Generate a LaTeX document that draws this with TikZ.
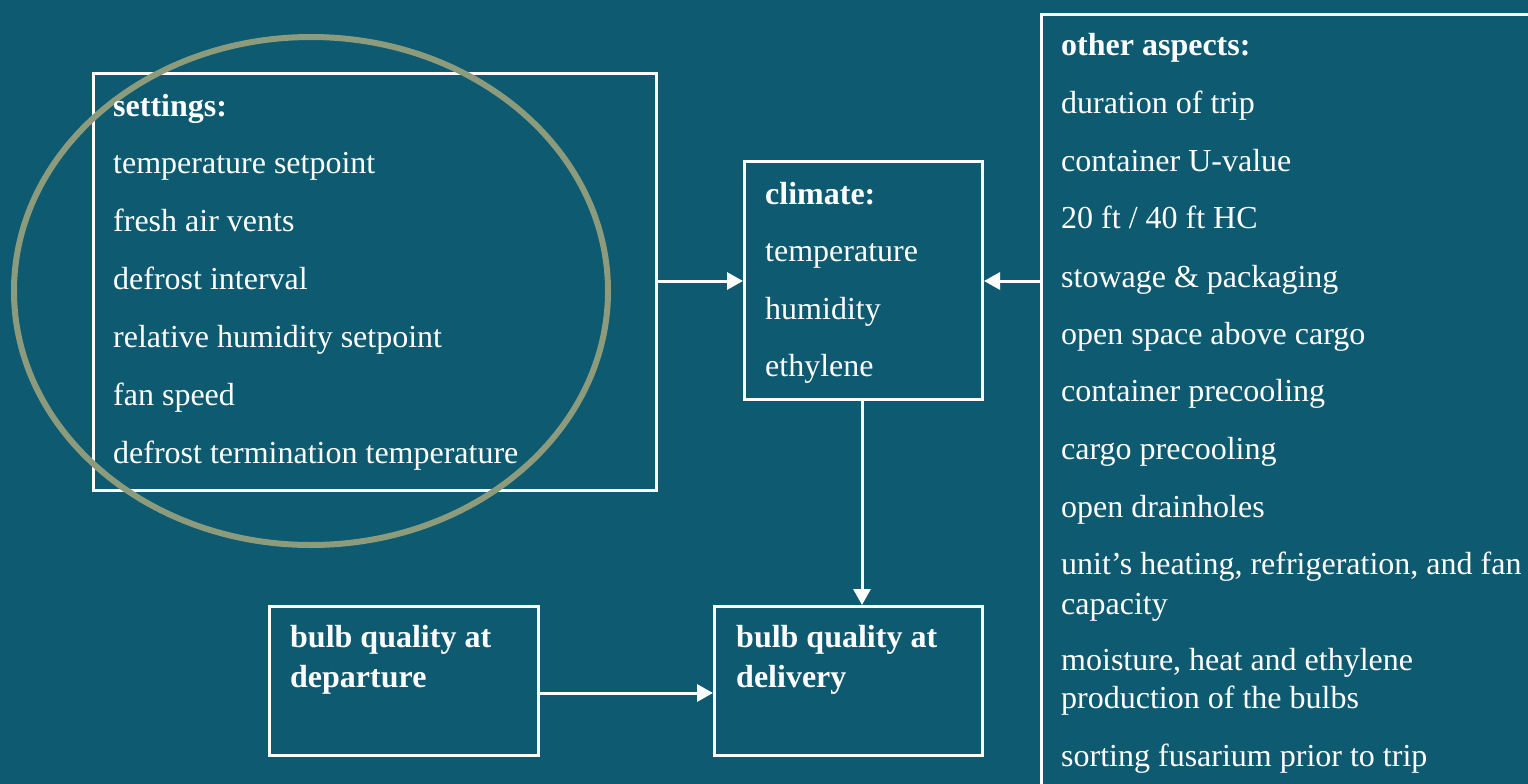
\documentclass[tikz,border=0pt]{standalone}
\usepackage{fontspec}
\setmainfont{Liberation Serif}
\usetikzlibrary{arrows.meta,shapes.geometric}
\definecolor{bg}{HTML}{0E5A71}
\definecolor{ring}{HTML}{8C9B7C}
\begin{document}
\begin{tikzpicture}[x=1pt,y=-1pt,
  box/.style={draw=white,line width=3pt},
  txt/.style={anchor=base west,inner sep=0pt,text=white,font=\fontsize{32}{38}\selectfont},
  btxt/.style={txt,font=\fontsize{32}{38}\selectfont\bfseries},
  arr/.style={draw=white,line width=3pt,-{Triangle[length=16pt,width=17pt]}}]
\fill[bg] (0,0) rectangle (1528,784);
\useasboundingbox (0,0) rectangle (1528,784);
% boxes
\node[box,minimum width=563pt,minimum height=417pt,anchor=north west] (set) at (92,72) {};
\node[box,minimum width=238pt,minimum height=238pt,anchor=north west] (clim) at (743,160) {};
\node[box,minimum width=269pt,minimum height=149pt,anchor=north west] (dep) at (268,605) {};
\node[box,minimum width=268pt,minimum height=149pt,anchor=north west] (del) at (713,605) {};
\node[box,minimum width=560pt,minimum height=820pt,anchor=north west] (oth) at (1040,13) {};
% ellipse
\node[draw=ring,line width=6pt,ellipse,minimum width=594pt,minimum height=508pt,inner sep=0pt] (ring) at (311,291) {};
% settings text
\node[btxt] (s0) at (113,116) {settings:};
\node[txt] (s1) at (113,173) {temperature setpoint};
\node[txt] (s2) at (113,231) {fresh air vents};
\node[txt] (s3) at (113,289) {defrost interval};
\node[txt] (s4) at (113,347) {relative humidity setpoint};
\node[txt] (s5) at (113,405) {fan speed};
\node[txt] (s6) at (113,463) {defrost termination temperature};
% climate text
\node[btxt] (c0) at (765,204) {climate:};
\node[txt] (c1) at (765,261) {temperature};
\node[txt] (c2) at (765,319) {humidity};
\node[txt] (c3) at (765,376) {ethylene};
% bulb texts
\node[btxt] (d0) at (290,647) {bulb quality at};
\node[btxt] (d1) at (290,687) {departure};
\node[btxt] (e0) at (736,647) {bulb quality at};
\node[btxt] (e1) at (736,687) {delivery};
% other aspects
\node[btxt] (o0) at (1061,56) {other aspects:};
\node[txt] (o1) at (1061,113) {duration of trip};
\node[txt] (o2) at (1061,171) {container U-value};
\node[txt] (o3) at (1061,228) {20 ft / 40 ft HC};
\node[txt] (o4) at (1061,287) {stowage \& packaging};
\node[txt] (o5) at (1061,344) {open space above cargo};
\node[txt] (o6) at (1061,401) {container precooling};
\node[txt] (o7) at (1061,459) {cargo precooling};
\node[txt] (o8) at (1061,517) {open drainholes};
\node[txt] (o9) at (1061,574) {unit’s heating, refrigeration, and fan};
\node[txt] (o10) at (1061,614) {capacity};
\node[txt] (o11) at (1061,670) {moisture, heat and ethylene};
\node[txt] (o12) at (1061,708) {production of the bulbs};
\node[txt] (o13) at (1061,766) {sorting fusarium prior to trip};
% arrows
\coordinate (sa) at (set.east |- 0,281);
\coordinate (ca) at (clim.west |- 0,281);
\coordinate (oa) at (oth.west |- 0,281);
\coordinate (cb) at (clim.east |- 0,281);
\draw[arr] (sa) -- (ca);
\draw[arr] (oa) -- (cb);
\draw[arr] (clim.south -| 862,0) -- (del.north -| 862,0);
\coordinate (da) at (dep.east |- 0,693);
\coordinate (ea) at (del.west |- 0,693);
\draw[arr] (da) -- (ea);
\end{tikzpicture}
\end{document}
